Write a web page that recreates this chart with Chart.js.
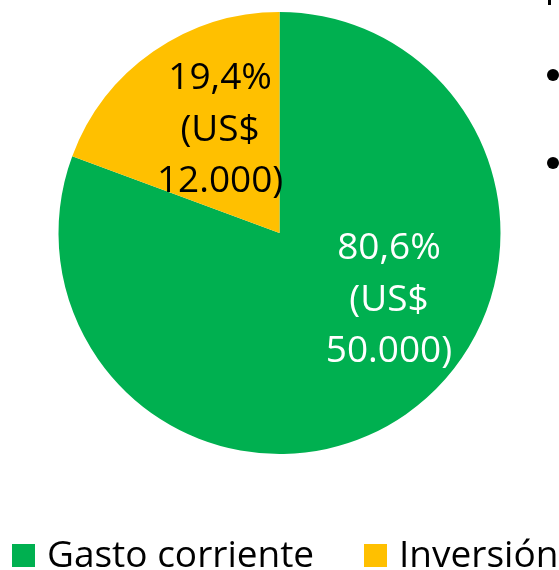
<!DOCTYPE html>
<html>
<head>
<meta charset="utf-8">
<script src="https://cdn.jsdelivr.net/npm/chart.js@4.4.1/dist/chart.umd.min.js"></script>
<style>
  html, body { margin: 0; padding: 0; background: #fff; }
  #wrap { position: relative; width: 559px; height: 570px; overflow: hidden; }
  #legend { position: absolute; left: 0; top: 534px; white-space: nowrap;
            font-family: "Open Sans", sans-serif; font-size: 37px; line-height: 37px; color: #000; }
  #legend span.item { position: absolute; top: 0; }
  #legend span.box { display: inline-block; width: 23px; height: 23px; vertical-align: baseline; margin-right: 12px; }
  .dot { position: absolute; width: 12px; height: 12px; border-radius: 50%; background: #000; }
</style>
</head>
<body>
<div id="wrap">
  <canvas id="pieChart" width="559" height="570"></canvas>
  <div id="legend"></div>
  <div class="dot" style="left:547px; top:69px;"></div>
  <div class="dot" style="left:547px; top:157px;"></div>
  <div style="position:absolute; left:548px; top:0; width:3px; height:5px; background:#000;"></div>
</div>
<script>
const categories = ['Gasto corriente', 'Inversión'];
const amounts = [50000, 12000];
const colors = ['#00B050', '#FFC000'];
const labelColors = ['#ffffff', '#000000'];

const total = amounts.reduce((a, b) => a + b, 0);

function formatAmount(v) {
    return String(v).replace(/\B(?=(\d{3})+(?!\d))/g, '.');
}

function labelLines(i) {
    const pct = (amounts[i] / total * 100).toFixed(1).replace('.', ',');
    return [pct + '%', '(US$', formatAmount(amounts[i]) + ')'];
}

// where each label sits: angle in degrees (canvas coords) and fraction of the radius
const labelSpots = [{ angle: 30.7, dist: 0.576 }, { angle: 240.5, dist: 0.546 }];

const sliceLabels = {
    id: 'sliceLabels',
    afterDatasetsDraw(chart) {
        const ctx = chart.ctx;
        const meta = chart.getDatasetMeta(0);
        ctx.save();
        ctx.font = '37px "Open Sans", sans-serif';
        ctx.textAlign = 'center';
        ctx.textBaseline = 'alphabetic';
        meta.data.forEach((arc, i) => {
            const p = arc.getProps(['x', 'y', 'outerRadius'], true);
            const a = labelSpots[i].angle * Math.PI / 180;
            const cx = p.x + Math.cos(a) * p.outerRadius * labelSpots[i].dist;
            const cy = p.y + Math.sin(a) * p.outerRadius * labelSpots[i].dist;
            const lines = labelLines(i);
            const lh = 51.5;
            ctx.fillStyle = labelColors[i];
            lines.forEach((t, k) => {
                ctx.fillText(t, cx, cy + 13 + (k - 1) * lh);
            });
        });
        ctx.restore();
    }
};

const ctx = document.getElementById('pieChart').getContext('2d');
new Chart(ctx, {
    type: 'pie',
    data: {
        labels: categories,
        datasets: [{
            data: amounts,
            backgroundColor: colors,
            borderWidth: 0
        }]
    },
    options: {
        responsive: false,
        animation: false,
        layout: { padding: { top: 12, bottom: 116, left: 0, right: 0 } },
        plugins: {
            legend: { display: false },
            tooltip: { enabled: false }
        }
    },
    plugins: [sliceLabels]
});

// legend built from the same arrays
const legendX = [12, 364];
const legend = document.getElementById('legend');
categories.forEach((c, i) => {
    const item = document.createElement('span');
    item.className = 'item';
    item.style.left = legendX[i] + 'px';
    item.innerHTML = '<span class="box" style="background:' + colors[i] + '"></span>' + c;
    legend.appendChild(item);
});
</script>
</body>
</html>
